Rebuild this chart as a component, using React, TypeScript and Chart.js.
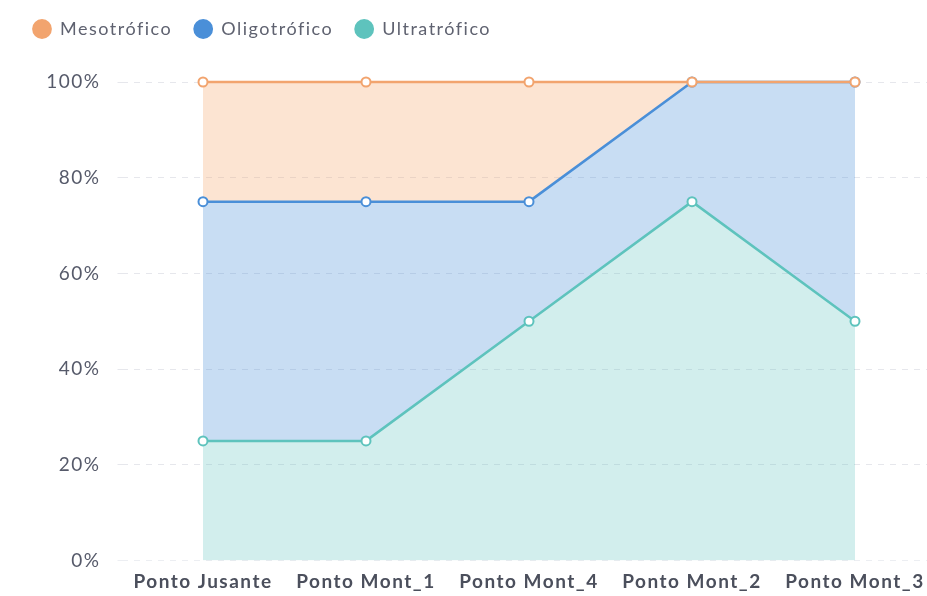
import React, { useEffect, useRef } from "react";
import { Chart, registerables } from "chart.js";

Chart.register(...registerables);

const categories = ["Ponto Jusante", "Ponto Mont_1", "Ponto Mont_4", "Ponto Mont_2", "Ponto Mont_3"];
const ultratrofico = [25, 25, 50, 75, 50];
const oligotrofico = [50, 50, 25, 25, 50];
const mesotrofico = [25, 25, 25, 0, 0];
const yTicks = [0, 20, 40, 60, 80, 100];

const FONT = "Lato, 'Noto Sans', sans-serif";
const LEGEND_EXTRA = 34;
const SPACING = "1.5px";

const letterSpacingPlugin = {
  id: "letterSpacing",
  beforeLayout(chart: any) {
    chart.ctx.letterSpacing = SPACING;
    const lg: any = chart.legend;
    if (lg && !lg._patched) {
      const orig = lg.fit;
      lg.fit = function () {
        orig.call(this);
        this.height += LEGEND_EXTRA;
      };
      lg._patched = true;
    }
  },
  beforeDraw(chart: any) {
    chart.ctx.letterSpacing = SPACING;
  },
};

export default function App() {
  const ref = useRef<HTMLCanvasElement>(null);
  useEffect(() => {
    const canvas = ref.current!;
    // cumulative (stacked) tops, built from the series arrays
    const ultraTop = ultratrofico.map((v) => v);
    const oligoTop = ultratrofico.map((v, i) => v + oligotrofico[i]);
    const mesoTop = oligoTop.map((v, i) => v + mesotrofico[i]);
    const mk = (label: string, data: number[], line: string, fill: string, fillMode: any) => ({
      label,
      data,
      borderColor: line,
      backgroundColor: fill,
      fill: fillMode,
      borderWidth: 2.5,
      pointRadius: 4.5,
      pointBorderWidth: 2,
      pointBackgroundColor: "#ffffff",
      pointBorderColor: line,
      tension: 0,
      clip: false as any,
    });
    const chart = new Chart(canvas, {
      type: "line",
      data: {
        labels: categories,
        datasets: [
          mk("Mesotrófico", mesoTop, "#f2a46e", "rgba(245,166,107,0.3)", "+1"),
          mk("Oligotrófico", oligoTop, "#4a8fd8", "rgba(74,143,216,0.3)", "+1"),
          mk("Ultratrófico", ultraTop, "#5ec3bd", "rgba(94,195,189,0.28)", "origin"),
        ],
      },
      options: {
        animation: false,
        responsive: false,
        devicePixelRatio: 1,
        layout: { padding: { left: 11, right: 8.5, top: 0, bottom: 0 } },
        plugins: {
          tooltip: { enabled: false },
          filler: { drawTime: "beforeDatasetsDraw" } as any,
          legend: {
            position: "top",
            align: "start",
            labels: {
              usePointStyle: true,
              pointStyle: "circle",
              boxWidth: 18,
              boxHeight: 14,
              padding: 22,
              color: "#5f6270",
              font: { family: FONT, size: 18 },
              generateLabels(ch: any) {
                return ch.data.datasets.map((ds: any, i: number) => ({
                  text: ds.label,
                  fillStyle: ds.borderColor,
                  strokeStyle: ds.borderColor,
                  lineWidth: 0,
                  pointStyle: "circle",
                  datasetIndex: i,
                  hidden: false,
                  fontColor: "#5f6270",
                }));
              },
            },
          },
        },
        scales: {
          x: {
            offset: true,
            grid: { display: false, drawTicks: false },
            border: { display: false },
            ticks: {
              padding: 10,
              color: "#4b4f5c",
              font: { family: FONT, size: 19, weight: "bold" },
              maxRotation: 0,
            },
            afterFit(s: any) {
              s.height = 37.5;
            },
          },
          y: {
            min: 0,
            max: 100,
            afterBuildTicks(s: any) {
              s.ticks = yTicks.map((v) => ({ value: v }));
            },
            grid: {
              color: (c: any) => (c.tick && c.tick.value === 0 ? "#eceef2" : "#e6e7ec"),
              lineWidth: 1,
              tickLength: 4,
              drawTicks: true,
            },
            border: { display: false, dash: [6, 6] },
            ticks: {
              padding: 17,
              color: "#565a6a",
              font: { family: FONT, size: 19 },
              callback: (v: any) => v + "%",
            },
            afterFit(s: any) {
              s.width = 110.5;
            },
          },
        },
      },
      plugins: [letterSpacingPlugin],
    });
    return () => chart.destroy();
  }, []);
  return (
    <div style={{ position: "fixed", left: 0, top: 0, width: 927, height: 596, overflow: "hidden", background: "#fff" }}>
      <canvas ref={ref} width={945} height={600} style={{ position: "absolute", left: 0, top: -2.5, width: 945, height: 600 }} />
    </div>
  );
}
